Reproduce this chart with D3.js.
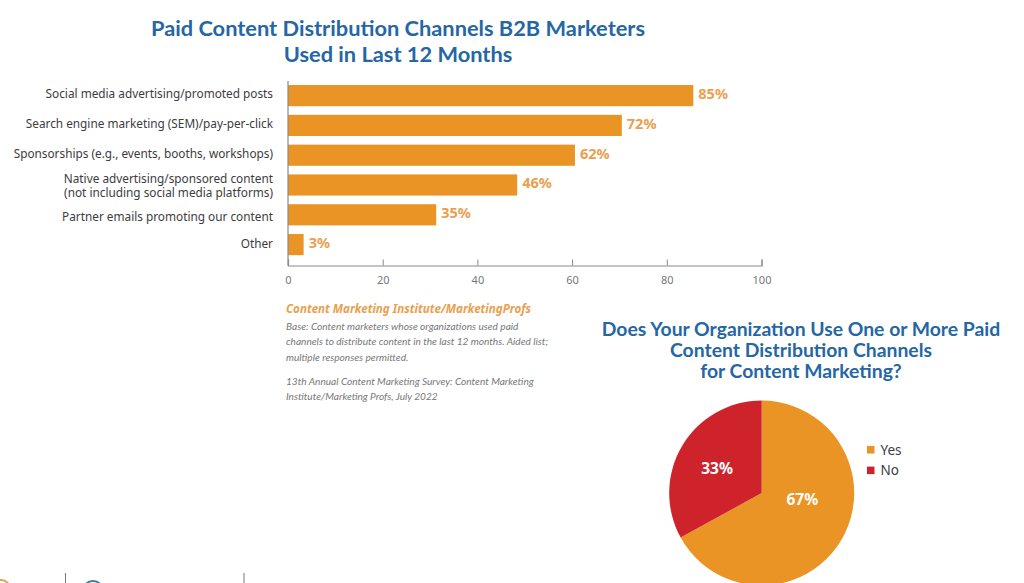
<!DOCTYPE html>
<html>
<head>
<meta charset="utf-8">
<script src="https://cdn.jsdelivr.net/npm/d3@7"></script>
<style>
  html, body { margin: 0; padding: 0; background: #fff; }
  svg { display: block; }
  text { font-family: "Noto Sans", sans-serif; }
  .title { font-family: Lato, sans-serif; font-weight: 700; fill: #2566a4; text-anchor: middle; }
  .note { font-family: Lato, sans-serif; font-style: italic; font-size: 10.1px; fill: #77777a; }
</style>
</head>
<body>
<div id="chart"></div>
<script>
// bar lengths are read off the picture, the printed labels don't quite agree with them
var categories = [
  ["Social media advertising/promoted posts"],
  ["Search engine marketing (SEM)/pay-per-click"],
  ["Sponsorships (e.g., events, booths, workshops)"],
  ["Native advertising/sponsored content", "(not including social media platforms)"],
  ["Partner emails promoting our content"],
  ["Other"]
];
var barValues = [85.6, 70.5, 60.6, 48.4, 31.3, 3.3];
var barLabels = ["85%", "72%", "62%", "46%", "35%", "3%"];
var axisTicks = [0, 20, 40, 60, 80, 100];

var pieNames = ["Yes", "No"];
var pieValues = [67, 33];
var pieLabels = ["67%", "33%"];

var barTitle = ["Paid Content Distribution Channels B2B Marketers", "Used in Last 12 Months"];
var pieTitle = ["Does Your Organization Use One or More Paid", "Content Distribution Channels", "for Content Marketing?"];
var sourceHead = "Content Marketing Institute/MarketingProfs";
var sourceLines = [
  "Base: Content marketers whose organizations used paid",
  "channels to distribute content in the last 12 months. Aided list;",
  "multiple responses permitted."
];
var surveyLines = [
  "13th Annual Content Marketing Survey: Content Marketing",
  "Institute/Marketing Profs, July 2022"
];

var ORANGE = "#e99425", RED = "#cf232c";

var svg = d3.select("#chart").append("svg")
  .attr("width", 1024)
  .attr("height", 583);

// titles
svg.append("g").selectAll("text").data(barTitle).join("text")
  .attr("class", "title")
  .attr("font-size", 21.8)
  .attr("x", 398)
  .attr("y", function(d, i) { return 35.5 + i * 26.2; })
  .text(function(d) { return d; });

svg.append("g").selectAll("text").data(pieTitle).join("text")
  .attr("class", "title")
  .attr("font-size", 19.35)
  .attr("x", 801)
  .attr("y", function(d, i) { return 336 + i * 20.8; })
  .text(function(d) { return d; });

// bar chart
var x = d3.scaleLinear().domain([0, 100]).range([288, 761.5]);
var y = d3.scaleBand().domain(d3.range(categories.length)).range([76.4, 263.8]).padding(0.29);

var bars = svg.append("g");
bars.selectAll("rect").data(barValues).join("rect")
  .attr("x", x(0))
  .attr("y", function(d, i) { return y(i); })
  .attr("width", function(d) { return x(d) - x(0); })
  .attr("height", y.bandwidth())
  .attr("fill", ORANGE);

bars.selectAll("text").data(barLabels).join("text")
  .attr("x", function(d, i) { return x(barValues[i]) + 5; })
  .attr("y", function(d, i) { return y(i) + y.bandwidth() / 2 + 3.5; })
  .attr("font-size", 14.5)
  .attr("font-weight", 700)
  .attr("fill", "#e9a050")
  .text(function(d) { return d; });

// category labels, the original doesn't centre them exactly on the bars
var labelNudge = [-1.5, -1.5, -1.5, 1.5, 2.5, -0.5];
var labels = svg.append("g").attr("font-size", 11.8).attr("fill", "#3c3c3e").attr("text-anchor", "end");
categories.forEach(function(lines, i) {
  lines.forEach(function(line, j) {
    labels.append("text")
      .attr("x", 273)
      .attr("y", y(i) + y.bandwidth() / 2 + 4 + labelNudge[i] + (j - (lines.length - 1) / 2) * 14)
      .text(line);
  });
});

// axis
var axis = d3.axisBottom(x).tickValues(axisTicks).tickSize(-6).tickPadding(11);
var axisG = svg.append("g").attr("transform", "translate(0,265.5)").call(axis);
axisG.select(".domain").attr("stroke", "#8a8a8c").attr("stroke-width", 1.2);
axisG.selectAll(".tick line").attr("stroke", "#8a8a8c");
axisG.selectAll(".tick text").attr("font-family", "'Noto Sans'").attr("font-size", 11).attr("fill", "#77777a");
svg.append("line")
  .attr("x1", x(0)).attr("x2", x(0))
  .attr("y1", 81).attr("y2", 265.5)
  .attr("stroke", "#8a8a8c").attr("stroke-width", 1.2);

// source notes
svg.append("text")
  .attr("x", 286).attr("y", 313)
  .attr("font-size", 11.6)
  .attr("font-style", "italic")
  .attr("font-weight", 700)
  .attr("fill", "#e9a050")
  .text(sourceHead);
svg.append("g").selectAll("text").data(sourceLines).join("text")
  .attr("class", "note")
  .attr("x", 286)
  .attr("y", function(d, i) { return 329.5 + i * 15.6; })
  .text(function(d) { return d; });
svg.append("g").selectAll("text").data(surveyLines).join("text")
  .attr("class", "note")
  .attr("x", 286)
  .attr("y", function(d, i) { return 384.5 + i * 15.6; })
  .text(function(d) { return d; });

// pie, clockwise from 12 o'clock
var pie = d3.pie().sort(null)(pieValues);
var R = 92.5;
var arc = d3.arc().innerRadius(0).outerRadius(R);
var labelArc = d3.arc().innerRadius(R * 0.56).outerRadius(R * 0.56);
var pieColor = d3.scaleOrdinal().domain(pieNames).range([ORANGE, RED]);
// the 67% label sits higher than the slice centroid
var pieNudge = [[-4, -20], [0, 1.5]];

var pieG = svg.append("g").attr("transform", "translate(761.7,493)");
pieG.selectAll("path").data(pie).join("path")
  .attr("d", arc)
  .attr("fill", function(d, i) { return pieColor(pieNames[i]); });
pieG.selectAll("text").data(pie).join("text")
  .attr("transform", function(d, i) {
    var c = labelArc.centroid(d);
    return "translate(" + (c[0] + pieNudge[i][0]) + "," + (c[1] + pieNudge[i][1]) + ")";
  })
  .attr("dy", 5.5)
  .attr("text-anchor", "middle")
  .attr("font-size", 15.5)
  .attr("font-weight", 700)
  .attr("fill", "#fff")
  .text(function(d, i) { return pieLabels[i]; });

// legend
var legend = svg.append("g").selectAll("g").data(pieNames).join("g")
  .attr("transform", function(d, i) { return "translate(867," + (446 + i * 20.6) + ")"; });
legend.append("rect")
  .attr("width", 7.5).attr("height", 7.5)
  .attr("fill", function(d) { return pieColor(d); });
legend.append("text")
  .attr("x", 13.5).attr("y", 8.5)
  .attr("font-size", 13.5)
  .attr("fill", "#3c3c3e")
  .text(function(d) { return d; });

// bits of the footer that got cut off at the bottom edge of the screenshot
var footer = svg.append("g");
footer.selectAll("line").data([65.5, 244]).join("line")
  .attr("x1", function(d) { return d; }).attr("x2", function(d) { return d; })
  .attr("y1", 573).attr("y2", 583)
  .attr("stroke", "#77777a");
footer.append("circle").attr("cx", 1).attr("cy", 589).attr("r", 9).attr("fill", "none").attr("stroke", "#e9a050").attr("stroke-width", 2);
footer.append("circle").attr("cx", 93).attr("cy", 591).attr("r", 10).attr("fill", "none").attr("stroke", "#3f7f9c").attr("stroke-width", 2);
</script>
</body>
</html>
